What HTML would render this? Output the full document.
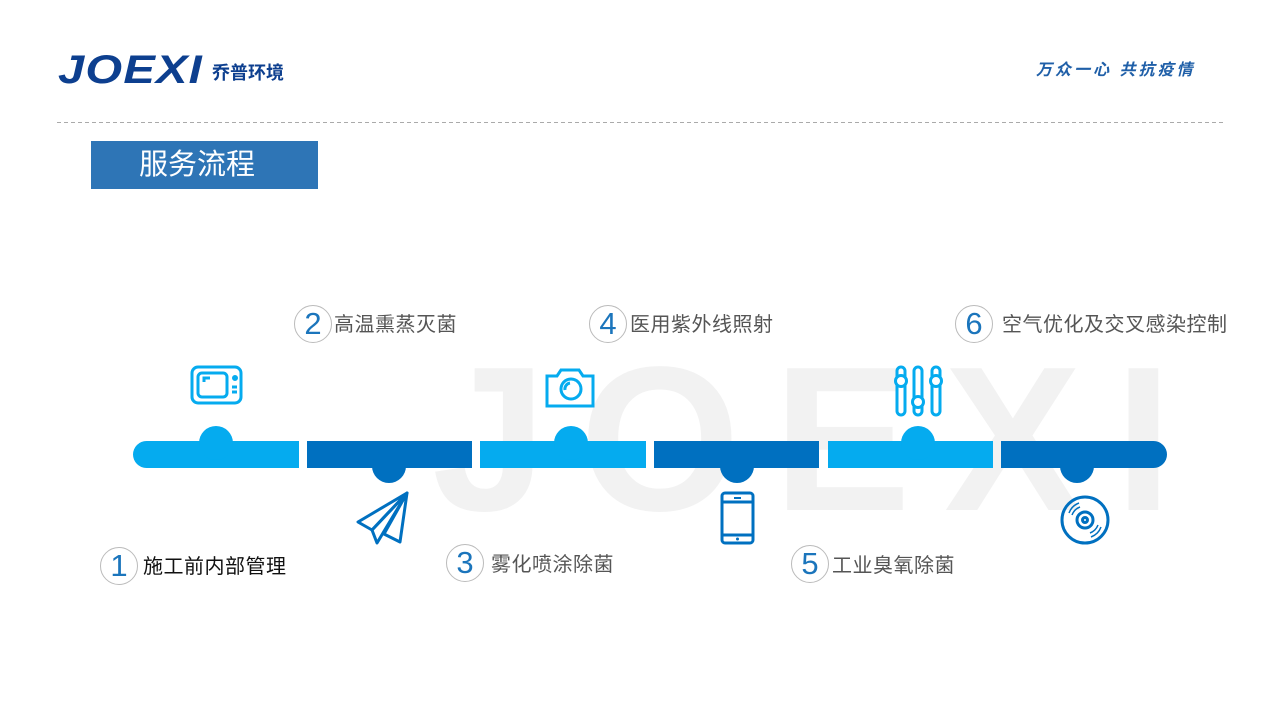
<!DOCTYPE html>
<html><head><meta charset="utf-8">
<style>
*{margin:0;padding:0;box-sizing:border-box}
body{width:1280px;height:720px;background:#fff;position:relative;overflow:hidden;font-family:"Liberation Sans","Noto Sans CJK SC",sans-serif}
.abs{position:absolute}
.num{position:absolute;width:38px;height:38px;border:1px solid #bbb;border-radius:50%;color:#1b75bc;font-size:31px;line-height:36px;text-align:center;font-family:"Liberation Sans",sans-serif}
.lbl{position:absolute;font-size:20px;color:#555;line-height:24px;white-space:nowrap;letter-spacing:0.5px}
</style></head><body>
<svg class="abs" style="left:0;top:0" width="1280" height="720">
  <text x="432" y="510" font-family="Liberation Sans, sans-serif" font-weight="bold" font-size="206" fill="#f2f2f2" textLength="740" lengthAdjust="spacing">JOEXI</text>
  <line x1="57" y1="122.5" x2="1224" y2="122.5" stroke="#aaa" stroke-width="1" stroke-dasharray="4,3"/>
  <rect x="133" y="441" width="166" height="27" rx="13.5" fill="#05abef"/>
  <rect x="150" y="441" width="149" height="27" fill="#05abef"/>
  <rect x="307" y="441" width="165" height="27" fill="#0070c0"/>
  <rect x="480" y="441" width="166" height="27" fill="#05abef"/>
  <rect x="654" y="441" width="165" height="27" fill="#0070c0"/>
  <rect x="828" y="441" width="165" height="27" fill="#05abef"/>
  <rect x="1001" y="441" width="166" height="27" rx="13.5" fill="#0070c0"/>
  <rect x="1001" y="441" width="150" height="27" fill="#0070c0"/>
  <circle cx="216" cy="443" r="17" fill="#05abef"/>
  <circle cx="389" cy="466" r="17" fill="#0070c0"/>
  <circle cx="571" cy="443" r="17" fill="#05abef"/>
  <circle cx="737" cy="466" r="17" fill="#0070c0"/>
  <circle cx="918" cy="443" r="17" fill="#05abef"/>
  <circle cx="1077" cy="466" r="17" fill="#0070c0"/>
  <g fill="none" stroke="#05abef" stroke-width="3">
    <rect x="192" y="367" width="49" height="36" rx="6"/>
    <rect x="198" y="373" width="29" height="24" rx="4"/>
    <path d="M204 382v-4h6"/>
    <path d="M232 387h5M232 392h5"/>
    <circle cx="235" cy="378" r="1.5"/>
  </g>
  <g fill="none" stroke="#0070c0" stroke-width="3" stroke-linejoin="round">
    <path d="M407 493 L358 522 L372 530 Z"/>
    <path d="M407 493 L372 530 L377 543 Z"/>
    <path d="M407 493 L384 534 L400 542 Z"/>
  </g>
  <g fill="none" stroke="#05abef" stroke-width="3">
    <path d="M547 376 h10 l4 -6 h18 l4 6 h10 v30 h-46 z"/>
    <circle cx="571" cy="389" r="10"/>
    <path d="M565 390 a6 6 0 0 1 5 -7"/>
  </g>
  <g fill="none" stroke="#0070c0" stroke-width="3">
    <rect x="722" y="493" width="31" height="50" rx="3"/>
    <path d="M722 502h31M722 535h31"/>
  </g>
  <rect x="734" y="497" width="7" height="2" fill="#0070c0"/>
  <circle cx="737.5" cy="539" r="1.5" fill="#0070c0"/>
  <g fill="none" stroke="#05abef" stroke-width="3">
    <rect x="897" y="367" width="8" height="48" rx="4"/>
    <rect x="914" y="367" width="8" height="48" rx="4"/>
    <rect x="932" y="367" width="8" height="48" rx="4"/>
  </g>
  <g fill="#fff" stroke="#05abef" stroke-width="3">
    <circle cx="901" cy="381" r="5.5"/>
    <circle cx="918" cy="402" r="5.5"/>
    <circle cx="936" cy="381" r="5.5"/>
  </g>
  <g fill="none" stroke="#0070c0" stroke-width="3">
    <circle cx="1085" cy="520" r="23"/>
    <circle cx="1085" cy="520" r="8"/>
    <circle cx="1085" cy="520" r="2.5"/>
  </g>
  <g fill="none" stroke="#0070c0" stroke-width="1.5">
    <path d="M1072 515 a14 14 0 0 1 8 -8"/><path d="M1069 513 a17 17 0 0 1 10 -10"/>
    <path d="M1098 525 a14 14 0 0 1 -8 8"/><path d="M1101 527 a17 17 0 0 1 -10 10"/>
  </g>
</svg>
<div class="abs" style="left:58px;top:50px;font-family:'Liberation Sans',sans-serif;font-weight:bold;font-style:italic;font-size:40px;color:#0d3f8f;letter-spacing:1px;line-height:40px;transform:scaleX(1.18);transform-origin:left">JOEXI</div>
<div class="abs" style="left:212px;top:63px;font-size:18px;font-weight:bold;color:#0d3f8f;line-height:20px">乔普环境</div>
<div class="abs" style="left:1036px;top:61px;font-size:16px;font-style:italic;font-weight:bold;color:#1f5fa8;line-height:20px;letter-spacing:3px;white-space:nowrap">万众一心 共抗疫情</div>
<div class="abs" style="left:91px;top:141px;width:227px;height:48px;background:#2e75b6;color:#fff;font-size:29px;line-height:48px;padding-left:48px">服务流程</div>
<div class="num" style="left:100px;top:547px">1</div><div class="lbl" style="left:143px;top:555px;color:#111">施工前内部管理</div>
<div class="num" style="left:294px;top:305px">2</div><div class="lbl" style="left:334px;top:313px">高温熏蒸灭菌</div>
<div class="num" style="left:446px;top:544px">3</div><div class="lbl" style="left:491px;top:553px">雾化喷涂除菌</div>
<div class="num" style="left:589px;top:305px">4</div><div class="lbl" style="left:630px;top:313px">医用紫外线照射</div>
<div class="num" style="left:791px;top:545px">5</div><div class="lbl" style="left:832px;top:554px">工业臭氧除菌</div>
<div class="num" style="left:955px;top:305px">6</div><div class="lbl" style="left:1002px;top:313px">空气优化及交叉感染控制</div>
</body></html>
